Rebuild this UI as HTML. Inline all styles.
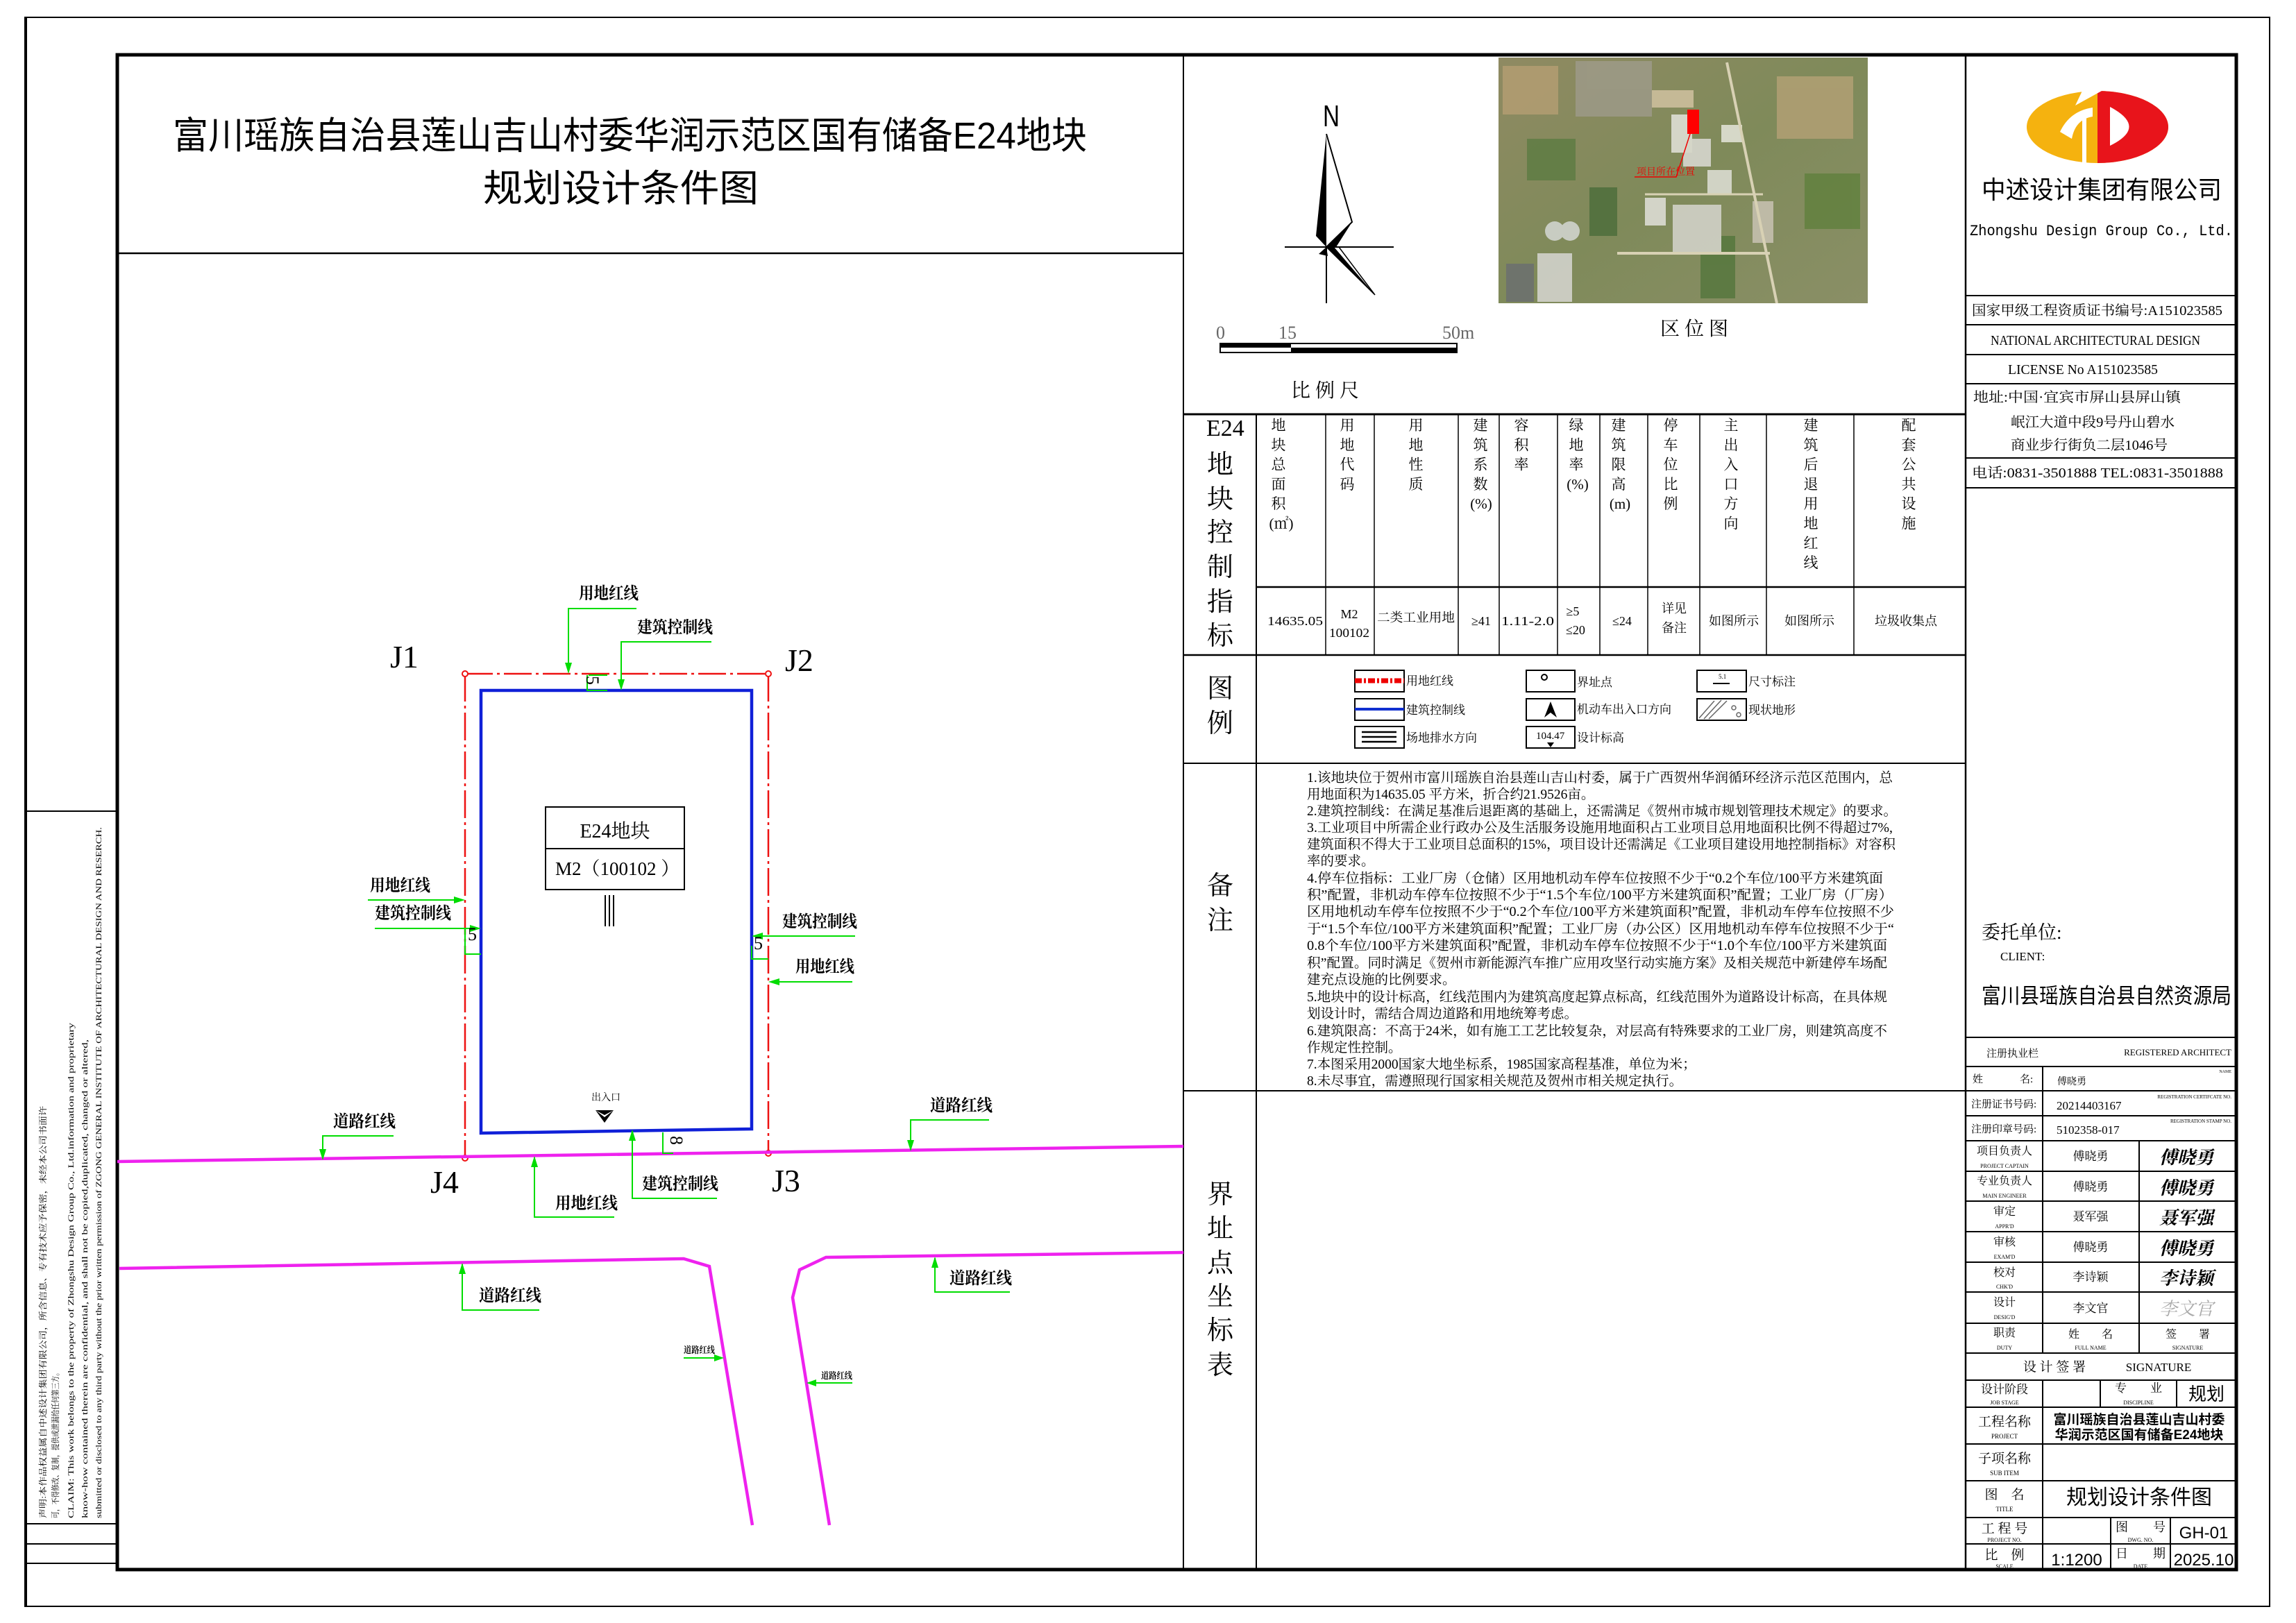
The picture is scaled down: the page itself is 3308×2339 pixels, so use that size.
<!DOCTYPE html>
<html><head><meta charset="utf-8"><style>
html,body{margin:0;padding:0;background:#fff;}
svg{display:block;}
text{font-family:"Liberation Serif","Noto Serif CJK SC",serif;fill:#000;}
.s{font-family:"Liberation Sans","Noto Sans CJK SC",sans-serif;}
.lb{font-family:"Liberation Sans","Noto Sans CJK SC",sans-serif;font-weight:bold;font-size:24px;}
.g{stroke:#00dd00;stroke-width:2;fill:none;}
.ga{fill:#00dd00;}
.k{stroke:#000;fill:none;}
</style></head><body>
<svg width="3308" height="2339" viewBox="0 0 3308 2339" xmlns="http://www.w3.org/2000/svg">
<rect width="3308" height="2339" fill="#fff"/>
<rect x="36" y="25" width="3234" height="2290" class="k" stroke-width="2"/>
<line x1="38" y1="25" x2="38" y2="2315" stroke="#000" stroke-width="2"/>
<line x1="36" y1="1169" x2="169" y2="1169" stroke="#000" stroke-width="2"/>
<line x1="36" y1="2196" x2="169" y2="2196" stroke="#000" stroke-width="2"/>
<line x1="36" y1="2225" x2="169" y2="2225" stroke="#000" stroke-width="2"/>
<line x1="36" y1="2253" x2="169" y2="2253" stroke="#000" stroke-width="2"/>
<g font-size="12">
<text transform="translate(66,2188) rotate(-90)" textLength="594" lengthAdjust="spacingAndGlyphs">声明:本作品权益属自中述设计集团有限公司，所含信息、专有技术应予保密，未经本公司书面许</text>
<text transform="translate(84,2188) rotate(-90)" textLength="215" lengthAdjust="spacingAndGlyphs">可，不得修改、复制，提供或泄漏给任何第三方。</text>
<text transform="translate(106,2188) rotate(-90)" textLength="714" lengthAdjust="spacingAndGlyphs">CLAIM: This work belongs to the property of Zhongshu Design Group Co., Ltd.information and proprietary</text>
<text transform="translate(126,2188) rotate(-90)" textLength="690" lengthAdjust="spacingAndGlyphs">know-how contained therein are confidential, and shall not be copied,duplicated, changed or altered,</text>
<text transform="translate(146,2188) rotate(-90)" textLength="996" lengthAdjust="spacingAndGlyphs">submitted or disclosed to any third party without the prior written permission of ZGONG GENERAL INSTITUTE OF ARCHITECTURAL DESIGN AND RESERCH.</text>
</g>
<rect x="169" y="79" width="3053" height="2183" class="k" stroke-width="5"/>
<line x1="169" y1="365" x2="1705" y2="365" stroke="#000" stroke-width="2.5"/>
<line x1="1705" y1="79" x2="1705" y2="2262" stroke="#000" stroke-width="2"/>
<line x1="2832" y1="79" x2="2832" y2="2262" stroke="#000" stroke-width="2.5"/>
<line x1="1705" y1="597" x2="2832" y2="597" stroke="#000" stroke-width="3"/>
<line x1="1810" y1="597" x2="1810" y2="2262" stroke="#000" stroke-width="2"/>
<line x1="1810" y1="846" x2="2832" y2="846" stroke="#000" stroke-width="2.5"/>
<line x1="1705" y1="944" x2="2832" y2="944" stroke="#000" stroke-width="2.5"/>
<line x1="1705" y1="1100" x2="2832" y2="1100" stroke="#000" stroke-width="2"/>
<line x1="1705" y1="1572" x2="2832" y2="1572" stroke="#000" stroke-width="2"/>
<g stroke="#000" stroke-width="1.5">
<line x1="1910" y1="597" x2="1910" y2="944"/><line x1="1980" y1="597" x2="1980" y2="944"/>
<line x1="2101" y1="597" x2="2101" y2="944"/><line x1="2160" y1="597" x2="2160" y2="944"/>
<line x1="2244" y1="597" x2="2244" y2="944"/><line x1="2305" y1="597" x2="2305" y2="944"/>
<line x1="2374" y1="597" x2="2374" y2="944"/><line x1="2449" y1="597" x2="2449" y2="944"/>
<line x1="2545" y1="597" x2="2545" y2="944"/><line x1="2671" y1="597" x2="2671" y2="944"/>
</g>
<text x="249" y="214" font-size="54" class="s" textLength="1317" lengthAdjust="spacingAndGlyphs">富川瑶族自治县莲山吉山村委华润示范区国有储备E24地块</text>
<text x="696" y="290" font-size="54" class="s" textLength="397" lengthAdjust="spacingAndGlyphs">规划设计条件图</text>

<text x="1906" y="182" font-size="44" class="s" textLength="24" lengthAdjust="spacingAndGlyphs">N</text>
<polygon points="1911,193 1896,340 1911,356" fill="#000"/>
<polyline points="1911,193 1948,320 1911,356" class="k" stroke-width="2"/>
<polygon points="1911,356 1948,320 1925,356" fill="#000"/>
<polygon points="1911,356 1981,425 1922,356" fill="#000"/>
<polyline points="1911,356 1981,425 1929,356" class="k" stroke-width="1.5"/>
<polygon points="1911,356 1900,366 1913,369" fill="#000"/>
<line x1="1851" y1="356" x2="2008" y2="356" stroke="#000" stroke-width="2"/>
<line x1="1911" y1="356" x2="1911" y2="437" stroke="#000" stroke-width="2"/>
<g font-size="26"><text x="1752" y="488" style="fill:#666">0</text><text x="1842" y="488" style="fill:#666">15</text><text x="2078" y="488" style="fill:#666">50m</text></g>
<rect x="1758" y="495" width="341" height="13" fill="#fff" stroke="#000" stroke-width="2"/>
<rect x="1758" y="495" width="102" height="6" fill="#000"/>
<rect x="1860" y="501" width="239" height="7" fill="#000"/>
<text x="1860" y="572" font-size="28">比 例 尺</text>
<defs><linearGradient id="mg" x1="0" y1="0" x2="1" y2="1"><stop offset="0" stop-color="#8f8a62"/><stop offset="0.5" stop-color="#7f8a5a"/><stop offset="1" stop-color="#8a8f66"/></linearGradient></defs>
<rect x="2159" y="83" width="532" height="354" fill="url(#mg)"/>
<g opacity="0.85">
<rect x="2165" y="95" width="80" height="70" fill="#b39d72"/>
<rect x="2270" y="88" width="110" height="80" fill="#9d9a88"/>
<rect x="2200" y="200" width="70" height="60" fill="#5f7d44"/>
<rect x="2290" y="270" width="40" height="70" fill="#4e6e3c"/>
<rect x="2560" y="110" width="110" height="90" fill="#b2a074"/>
<rect x="2600" y="250" width="80" height="80" fill="#62813f"/>
<rect x="2450" y="340" width="50" height="90" fill="#56773e"/>
<rect x="2170" y="380" width="40" height="55" fill="#6c6f70"/>
<rect x="2215" y="365" width="50" height="70" fill="#d7d7d2"/>
<circle cx="2240" cy="333" r="14" fill="#d5d8d5"/><circle cx="2262" cy="333" r="14" fill="#d5d8d5"/>
<rect x="2410" y="295" width="70" height="70" fill="#d6d6ce"/>
<rect x="2370" y="285" width="30" height="40" fill="#e2e2dc"/>
<rect x="2425" y="200" width="40" height="40" fill="#dcdcd6"/>
<rect x="2408" y="165" width="30" height="55" fill="#e4e4dc"/>
<rect x="2460" y="245" width="35" height="35" fill="#e0e0d8"/>
<rect x="2480" y="180" width="30" height="25" fill="#e6e6dc"/>
<rect x="2525" y="290" width="30" height="60" fill="#c9c3b3"/>
<rect x="2380" y="130" width="60" height="25" fill="#d1c2a0"/>
</g>
<line x1="2488" y1="90" x2="2560" y2="437" stroke="#d8d1b4" stroke-width="4"/>
<line x1="2330" y1="365" x2="2550" y2="365" stroke="#d8d1b4" stroke-width="4"/>
<line x1="2370" y1="280" x2="2540" y2="280" stroke="#d8d1b4" stroke-width="3"/>
<rect x="2431" y="158" width="17" height="35" fill="#ff0000"/>
<polyline points="2435,193 2415,255 2355,255" stroke="#e00" stroke-width="1.5" fill="none"/>
<text x="2358" y="252" font-size="14" style="fill:#e00">项目所在位置</text>
<text x="2392" y="483" font-size="28">区 位 图</text>

<text x="1738" y="628" font-size="34">E24</text>
<g font-size="38" text-anchor="middle">
<text x="1758" y="682">地</text><text x="1758" y="732">块</text><text x="1758" y="780">控</text><text x="1758" y="830">制</text><text x="1758" y="880">指</text><text x="1758" y="929">标</text>
<text x="1758" y="1005">图</text><text x="1758" y="1055">例</text>
<text x="1758" y="1289">备</text><text x="1758" y="1339">注</text>
<text x="1758" y="1734">界</text><text x="1758" y="1783">址</text><text x="1758" y="1833">点</text><text x="1758" y="1881">坐</text><text x="1758" y="1930">标</text><text x="1758" y="1980">表</text>
</g>
<g font-size="21" text-anchor="middle" style="fill:#333">
<text x="1842" y="620">地<tspan x="1842" dy="28.3">块</tspan><tspan x="1842" dy="28.3">总</tspan><tspan x="1842" dy="28.3">面</tspan><tspan x="1842" dy="28.3">积</tspan><tspan x="1846" dy="28.3">(㎡)</tspan></text>
<text x="1941" y="620">用<tspan x="1941" dy="28.3">地</tspan><tspan x="1941" dy="28.3">代</tspan><tspan x="1941" dy="28.3">码</tspan></text>
<text x="2040" y="620">用<tspan x="2040" dy="28.3">地</tspan><tspan x="2040" dy="28.3">性</tspan><tspan x="2040" dy="28.3">质</tspan></text>
<text x="2133" y="620">建<tspan x="2133" dy="28.3">筑</tspan><tspan x="2133" dy="28.3">系</tspan><tspan x="2133" dy="28.3">数</tspan><tspan x="2134" dy="28.3">(%)</tspan></text>
<text x="2192" y="620">容<tspan x="2192" dy="28.3">积</tspan><tspan x="2192" dy="28.3">率</tspan></text>
<text x="2271" y="620">绿<tspan x="2271" dy="28.3">地</tspan><tspan x="2271" dy="28.3">率</tspan><tspan x="2273" dy="28.3">(%)</tspan></text>
<text x="2332" y="620">建<tspan x="2332" dy="28.3">筑</tspan><tspan x="2332" dy="28.3">限</tspan><tspan x="2332" dy="28.3">高</tspan><tspan x="2334" dy="28.3">(m)</tspan></text>
<text x="2407" y="620">停<tspan x="2407" dy="28.3">车</tspan><tspan x="2407" dy="28.3">位</tspan><tspan x="2407" dy="28.3">比</tspan><tspan x="2407" dy="28.3">例</tspan></text>
<text x="2494" y="620">主<tspan x="2494" dy="28.3">出</tspan><tspan x="2494" dy="28.3">入</tspan><tspan x="2494" dy="28.3">口</tspan><tspan x="2494" dy="28.3">方</tspan><tspan x="2494" dy="28.3">向</tspan></text>
<text x="2609" y="620">建<tspan x="2609" dy="28.3">筑</tspan><tspan x="2609" dy="28.3">后</tspan><tspan x="2609" dy="28.3">退</tspan><tspan x="2609" dy="28.3">用</tspan><tspan x="2609" dy="28.3">地</tspan><tspan x="2609" dy="28.3">红</tspan><tspan x="2609" dy="28.3">线</tspan></text>
<text x="2750" y="620">配<tspan x="2750" dy="28.3">套</tspan><tspan x="2750" dy="28.3">公</tspan><tspan x="2750" dy="28.3">共</tspan><tspan x="2750" dy="28.3">设</tspan><tspan x="2750" dy="28.3">施</tspan></text>
</g>
<g font-size="18" text-anchor="middle" style="fill:#333">
<text x="1866" y="901" textLength="80" lengthAdjust="spacingAndGlyphs">14635.05</text>
<text x="1944" y="891">M2</text><text x="1944" y="918" textLength="58" lengthAdjust="spacingAndGlyphs">100102</text>
<text x="2040" y="896" textLength="112" lengthAdjust="spacingAndGlyphs">二类工业用地</text>
<text x="2134" y="901">≥41</text>
<text x="2201" y="901" textLength="76" lengthAdjust="spacingAndGlyphs">1.11-2.0</text>
<text x="2266" y="887">≥5</text><text x="2270" y="914">≤20</text>
<text x="2337" y="901">≤24</text>
<text x="2412" y="883">详见</text><text x="2412" y="911">备注</text>
<text x="2498" y="901">如图所示</text>
<text x="2607" y="901">如图所示</text>
<text x="2746" y="901">垃圾收集点</text>
</g>
<g stroke="#000" stroke-width="2" fill="#fff">
<rect x="1952" y="966" width="71" height="31"/><rect x="1952" y="1007" width="71" height="31"/><rect x="1952" y="1047" width="71" height="31"/>
<rect x="2199" y="966" width="70" height="31"/><rect x="2199" y="1007" width="70" height="31"/><rect x="2199" y="1047" width="70" height="31"/>
<rect x="2445" y="966" width="71" height="31"/><rect x="2445" y="1007" width="71" height="31"/>
</g>
<line x1="1952" y1="981" x2="2023" y2="981" stroke="#e00" stroke-width="7" stroke-dasharray="10 3 3 3"/>
<line x1="1952" y1="1022" x2="2023" y2="1022" stroke="#1030d0" stroke-width="4"/>
<g stroke="#000" stroke-width="2.5"><line x1="1962" y1="1055" x2="2012" y2="1055"/><line x1="1962" y1="1062" x2="2012" y2="1062"/><line x1="1962" y1="1069" x2="2012" y2="1069"/></g>
<circle cx="2225" cy="976" r="4" fill="none" stroke="#000" stroke-width="2"/>
<polygon points="2234,1011 2225,1034 2234,1027 2243,1034" fill="#000"/>
<text x="2213" y="1065" font-size="15">104.47</text>
<polygon points="2229,1070 2239,1070 2234,1077" fill="#000"/>
<line x1="2468" y1="985" x2="2492" y2="985" stroke="#000" stroke-width="2"/>
<text x="2476" y="978" font-size="9">5.1</text>
<g stroke="#666" stroke-width="1.5"><line x1="2448" y1="1035" x2="2470" y2="1010"/><line x1="2455" y1="1036" x2="2480" y2="1009"/><line x1="2462" y1="1036" x2="2488" y2="1010"/><circle cx="2498" cy="1020" r="3" fill="none"/><circle cx="2505" cy="1030" r="3" fill="none"/></g>
<g font-size="17" style="fill:#333">
<text x="2026" y="987">用地红线</text><text x="2026" y="1029">建筑控制线</text><text x="2026" y="1069">场地排水方向</text>
<text x="2272" y="989">界址点</text><text x="2272" y="1028">机动车出入口方向</text><text x="2272" y="1069">设计标高</text>
<text x="2519" y="988">尺寸标注</text><text x="2519" y="1029">现状地形</text>
</g>
<g font-size="19.5" style="fill:#222">
<text x="1883" y="1127" textLength="844" lengthAdjust="spacingAndGlyphs">1.该地块位于贺州市富川瑶族自治县莲山吉山村委，属于广西贺州华润循环经济示范区范围内，总</text>
<text x="1883" y="1151">用地面积为14635.05 平方米，折合约21.9526亩。</text>
<text x="1883" y="1175" textLength="850" lengthAdjust="spacingAndGlyphs">2.建筑控制线：在满足基准后退距离的基础上，还需满足《贺州市城市规划管理技术规定》的要求。</text>
<text x="1883" y="1199" textLength="844" lengthAdjust="spacingAndGlyphs">3.工业项目中所需企业行政办公及生活服务设施用地面积占工业项目总用地面积比例不得超过7%,</text>
<text x="1883" y="1223" textLength="848" lengthAdjust="spacingAndGlyphs">建筑面积不得大于工业项目总面积的15%，项目设计还需满足《工业项目建设用地控制指标》对容积</text>
<text x="1883" y="1247">率的要求。</text>
<text x="1883" y="1272" textLength="830" lengthAdjust="spacingAndGlyphs">4.停车位指标：工业厂房（仓储）区用地机动车停车位按照不少于“0.2个车位/100平方米建筑面</text>
<text x="1883" y="1296" textLength="844" lengthAdjust="spacingAndGlyphs">积”配置，非机动车停车位按照不少于“1.5个车位/100平方米建筑面积”配置；工业厂房（厂房）</text>
<text x="1883" y="1320" textLength="846" lengthAdjust="spacingAndGlyphs">区用地机动车停车位按照不少于“0.2个车位/100平方米建筑面积”配置，非机动车停车位按照不少</text>
<text x="1883" y="1345" textLength="846" lengthAdjust="spacingAndGlyphs">于“1.5个车位/100平方米建筑面积”配置；工业厂房（办公区）区用地机动车停车位按照不少于“</text>
<text x="1883" y="1369" textLength="836" lengthAdjust="spacingAndGlyphs">0.8个车位/100平方米建筑面积”配置，非机动车停车位按照不少于“1.0个车位/100平方米建筑面</text>
<text x="1883" y="1394" textLength="836" lengthAdjust="spacingAndGlyphs">积”配置。同时满足《贺州市新能源汽车推广应用攻坚行动实施方案》及相关规范中新建停车场配</text>
<text x="1883" y="1418">建充点设施的比例要求。</text>
<text x="1883" y="1443" textLength="836" lengthAdjust="spacingAndGlyphs">5.地块中的设计标高，红线范围内为建筑高度起算点标高，红线范围外为道路设计标高，在具体规</text>
<text x="1883" y="1467">划设计时，需结合周边道路和用地统筹考虑。</text>
<text x="1883" y="1492" textLength="836" lengthAdjust="spacingAndGlyphs">6.建筑限高：不高于24米，如有施工工艺比较复杂，对层高有特殊要求的工业厂房，则建筑高度不</text>
<text x="1883" y="1516">作规定性控制。</text>
<text x="1883" y="1540">7.本图采用2000国家大地坐标系，1985国家高程基准，单位为米；</text>
<text x="1883" y="1564">8.未尽事宜，需遵照现行国家相关规范及贺州市相关规定执行。</text>
</g>

<!-- Right panel -->
<g>
<ellipse cx="3022" cy="183" rx="102" ry="52" fill="#f5b20f"/>
<path d="M3022,131 A102,52 0 0 1 3022,235 Z" fill="#e8141b"/>
<path d="M3000,131 L3028,131 L2990,152 Z" fill="#fff"/>
<rect x="3000" y="170" width="6" height="65" fill="#fff"/>
<path d="M3040,154 Q3095,183 3040,210 Z" fill="#fff"/>
<path d="M2968,190 Q2982,160 3015,155 L3015,168 Q2990,172 2985,200 Z" fill="#fff"/>
</g>
<text x="2855" y="286" font-size="36" class="s" textLength="346" lengthAdjust="spacingAndGlyphs">中述设计集团有限公司</text>
<text x="2838" y="339" font-size="22" style="font-family:'Liberation Mono',monospace" textLength="379" lengthAdjust="spacingAndGlyphs">Zhongshu Design Group Co., Ltd.</text>
<g stroke="#000" stroke-width="2">
<line x1="2832" y1="426" x2="3222" y2="426"/><line x1="2832" y1="468" x2="3222" y2="468"/>
<line x1="2832" y1="511" x2="3222" y2="511"/><line x1="2832" y1="553" x2="3222" y2="553"/>
<line x1="2832" y1="660" x2="3222" y2="660"/><line x1="2832" y1="703" x2="3222" y2="703"/>
</g>
<g font-size="20">
<text x="2841" y="454" textLength="361" lengthAdjust="spacingAndGlyphs">国家甲级工程资质证书编号:A151023585</text>
<text x="2868" y="497" textLength="302" lengthAdjust="spacingAndGlyphs">NATIONAL ARCHITECTURAL DESIGN</text>
<text x="2893" y="539" textLength="216" lengthAdjust="spacingAndGlyphs">LICENSE No A151023585</text>
<text x="2843" y="579" textLength="299" lengthAdjust="spacingAndGlyphs">地址:中国·宜宾市屏山县屏山镇</text>
<text x="2897" y="615" textLength="236" lengthAdjust="spacingAndGlyphs">岷江大道中段9号丹山碧水</text>
<text x="2897" y="648" textLength="226" lengthAdjust="spacingAndGlyphs">商业步行街负二层1046号</text>
<text x="2841" y="688" textLength="362" lengthAdjust="spacingAndGlyphs">电话:0831-3501888   TEL:0831-3501888</text>
</g>
<text x="2855" y="1353" font-size="27">委托单位:</text>
<text x="2882" y="1384" font-size="17">CLIENT:</text>
<text x="2855" y="1446" font-size="31" class="s" textLength="360" lengthAdjust="spacingAndGlyphs">富川县瑶族自治县自然资源局</text>

<g stroke="#000" stroke-width="2">
<line x1="2832" y1="1495" x2="3222" y2="1495"/><line x1="2832" y1="1537" x2="3222" y2="1537"/>
<line x1="2832" y1="1572" x2="3222" y2="1572"/><line x1="2832" y1="1608" x2="3222" y2="1608"/>
<line x1="2832" y1="1644" x2="3222" y2="1644"/><line x1="2832" y1="1688" x2="3222" y2="1688"/>
<line x1="2832" y1="1731" x2="3222" y2="1731"/><line x1="2832" y1="1775" x2="3222" y2="1775"/>
<line x1="2832" y1="1819" x2="3222" y2="1819"/><line x1="2832" y1="1862" x2="3222" y2="1862"/>
<line x1="2832" y1="1907" x2="3222" y2="1907"/><line x1="2832" y1="1950" x2="3222" y2="1950"/>
<line x1="2832" y1="1989" x2="3222" y2="1989"/><line x1="2832" y1="2028" x2="3222" y2="2028"/>
<line x1="2832" y1="2081" x2="3222" y2="2081"/><line x1="2832" y1="2134" x2="3222" y2="2134"/>
<line x1="2832" y1="2187" x2="3222" y2="2187"/><line x1="2832" y1="2225" x2="3222" y2="2225"/>
<line x1="2943" y1="1537" x2="2943" y2="1950"/><line x1="2943" y1="1989" x2="2943" y2="2262"/>
<line x1="3082" y1="1644" x2="3082" y2="1950"/>
<line x1="3026" y1="1989" x2="3026" y2="2028"/><line x1="3136" y1="1989" x2="3136" y2="2028"/>
<line x1="3041" y1="2187" x2="3041" y2="2262"/><line x1="3127" y1="2187" x2="3127" y2="2262"/>
</g>
<g font-size="15">
<text x="2862" y="1523">注册执业栏</text>
<text x="3215" y="1521" text-anchor="end" font-size="13">REGISTERED ARCHITECT</text>
<text x="2842" y="1560">姓</text><text x="2910" y="1560">名:</text>
<text x="2964" y="1563" font-size="14">傅晓勇</text>
<text x="3215" y="1546" text-anchor="end" font-size="6">NAME</text>
<text x="2840" y="1596">注册证书号码:</text>
<text x="2963" y="1599" font-size="17">20214403167</text>
<text x="3215" y="1583" text-anchor="end" font-size="7">REGISTRATION CERTIFCATE NO.</text>
<text x="2840" y="1632">注册印章号码:</text>
<text x="2963" y="1634" font-size="17">5102358-017</text>
<text x="3215" y="1618" text-anchor="end" font-size="7">REGISTRATION STAMP NO.</text>
</g>
<g text-anchor="middle">
<g font-size="16"><text x="2888" y="1664">项目负责人</text><text x="2888" y="1707">专业负责人</text><text x="2888" y="1751">审定</text><text x="2888" y="1795">审核</text><text x="2888" y="1839">校对</text><text x="2888" y="1882">设计</text><text x="2888" y="1926">职责</text></g>
<g font-size="8"><text x="2888" y="1683">PROJECT CAPTAIN</text><text x="2888" y="1726">MAIN ENGINEER</text><text x="2888" y="1770">APPR'D</text><text x="2888" y="1814">EXAM'D</text><text x="2888" y="1857">CHK'D</text><text x="2888" y="1901">DESIG'D</text><text x="2888" y="1945">DUTY</text></g>
<g font-size="17"><text x="3012" y="1672">傅晓勇</text><text x="3012" y="1716">傅晓勇</text><text x="3012" y="1759">聂军强</text><text x="3012" y="1803">傅晓勇</text><text x="3012" y="1846">李诗颖</text><text x="3012" y="1891">李文官</text></g>
<text x="3012" y="1928" font-size="16">姓　　名</text><text x="3012" y="1945" font-size="8">FULL NAME</text>
<text x="3152" y="1928" font-size="16">签　　署</text><text x="3152" y="1945" font-size="8">SIGNATURE</text>
<g font-size="26" font-style="italic" font-weight="bold" class="s">
<text x="3150" y="1677">傅晓勇</text><text x="3150" y="1721">傅晓勇</text><text x="3150" y="1764">聂军强</text><text x="3150" y="1808">傅晓勇</text><text x="3150" y="1851">李诗颖</text>
<text x="3150" y="1895" style="fill:#aaa;font-weight:normal">李文官</text>
</g>
<text x="2960" y="1976" font-size="19">设 计 签 署</text><text x="3110" y="1976" font-size="17">SIGNATURE</text>
<text x="2888" y="2008" font-size="17">设计阶段</text><text x="2888" y="2024" font-size="8">JOB STAGE</text>
<text x="3081" y="2006" font-size="17">专　　业</text><text x="3081" y="2024" font-size="8">DISCIPLINE</text>
<text x="3179" y="2018" font-size="26" class="s">规划</text>
<text x="2888" y="2055" font-size="19">工程名称</text><text x="2888" y="2073" font-size="9">PROJECT</text>
<text x="3082" y="2052" font-size="19" class="s" font-weight="bold">富川瑶族自治县莲山吉山村委</text>
<text x="3082" y="2074" font-size="19" class="s" font-weight="bold">华润示范区国有储备E24地块</text>
<text x="2888" y="2108" font-size="19">子项名称</text><text x="2888" y="2126" font-size="9">SUB ITEM</text>
<text x="2888" y="2160" font-size="19">图　名</text><text x="2888" y="2178" font-size="9">TITLE</text>
<text x="3082" y="2168" font-size="30" class="s">规划设计条件图</text>
<text x="2888" y="2209" font-size="19">工 程 号</text><text x="2888" y="2222" font-size="8">PROJECT NO.</text>
<text x="3084" y="2207" font-size="18">图　　号</text><text x="3084" y="2222" font-size="8">DWG. NO.</text>
<text x="3175" y="2217" font-size="24" class="s">GH-01</text>
<text x="2888" y="2247" font-size="19">比　例</text><text x="2888" y="2260" font-size="8">SCALE</text>
<text x="2992" y="2256" font-size="24" class="s">1:1200</text>
<text x="3084" y="2245" font-size="18">日　　期</text><text x="3084" y="2260" font-size="8">DATE</text>
<text x="3175" y="2256" font-size="24" class="s">2025.10</text>
</g>

<g stroke="#ee1111" stroke-width="2.5" fill="none" stroke-dasharray="40 6 4 6">
<line x1="670" y1="971" x2="1107" y2="971"/>
<line x1="670" y1="971" x2="670" y2="1669"/>
<line x1="1107" y1="971" x2="1107" y2="1662"/>
</g>
<g stroke="#ee1111" stroke-width="2" fill="#fff"><circle cx="670" cy="971" r="4"/><circle cx="1107" cy="971" r="4"/><circle cx="670" cy="1669" r="4"/><circle cx="1107" cy="1662" r="4"/></g>
<polygon points="693,995 1083,995 1083,1627 693,1633" fill="none" stroke="#1020d8" stroke-width="4.5"/>
<g stroke="#ee22ee" stroke-width="4.5" fill="none">
<line x1="169" y1="1674" x2="1705" y2="1652"/>
<polyline points="172,1828 985,1814 1022,1825 1084,2198"/>
<polyline points="1705,1805 1190,1812 1152,1830 1142,1870 1195,2198"/>
</g>
<g font-size="46" style="fill:#e01010">
<text x="562" y="962">J1</text><text x="1131" y="967">J2</text><text x="620" y="1719">J4</text><text x="1112" y="1717">J3</text>
</g>
<rect x="786" y="1163" width="200" height="119" fill="#fff" stroke="#000" stroke-width="2"/>
<line x1="786" y1="1223" x2="986" y2="1223" stroke="#000" stroke-width="2"/>
<text x="886" y="1207" font-size="28" text-anchor="middle">E24地块</text>
<text x="800" y="1261" font-size="27">M2（100102 ）</text>
<g stroke="#000" stroke-width="2"><line x1="872" y1="1290" x2="872" y2="1335"/><line x1="878" y1="1290" x2="878" y2="1335"/><line x1="884" y1="1290" x2="884" y2="1335"/></g>
<text x="873" y="1586" font-size="14" text-anchor="middle">出入口</text>
<polygon points="858,1600 884,1600 871,1618" fill="#000"/>
<polygon points="858,1600 871,1607 884,1600 871,1610" fill="#fff"/>
<g class="g">
<polyline points="917,877 819,877 819,968"/>
<polyline points="1025,925 895,925 895,992"/>
<polyline points="530,1297 667,1297"/>
<polyline points="540,1338 690,1338"/>
<polyline points="1232,1349 1086,1349"/>
<polyline points="1228,1415 1110,1415"/>
<polyline points="567,1637 465,1637 465,1670"/>
<polyline points="1425,1614 1312,1614 1312,1657"/>
<polyline points="885,1754 770,1754 770,1668"/>
<polyline points="1033,1727 911,1727 911,1630"/>
<polyline points="777,1888 666,1888 666,1822"/>
<polyline points="1455,1862 1347,1862 1347,1813"/>
<polyline points="985,1957 1040,1957"/>
<polyline points="1228,1993 1165,1993"/>
<polyline points="846,973 846,995 875,995"/>
<polyline points="848,973 875,973"/>
<polyline points="670,1338 670,1375 693,1375"/>
<polyline points="1083,1363 1083,1382 1107,1382"/>
<polyline points="955,1632 955,1662 970,1662"/>
</g>
<g class="ga">
<polygon points="819,971 814,955 824,955"/>
<polygon points="895,995 890,979 900,979"/>
<polygon points="670,1297 654,1292 654,1302"/>
<polygon points="693,1338 677,1333 677,1343"/>
<polygon points="1083,1349 1099,1344 1099,1354"/>
<polygon points="1107,1415 1123,1410 1123,1420"/>
<polygon points="465,1672 460,1656 470,1656"/>
<polygon points="1312,1659 1307,1643 1317,1643"/>
<polygon points="770,1666 765,1682 775,1682"/>
<polygon points="911,1628 906,1644 916,1644"/>
<polygon points="666,1820 661,1836 671,1836"/>
<polygon points="1347,1811 1342,1827 1352,1827"/>
<polygon points="1043,1957 1029,1952 1029,1962"/>
<polygon points="1162,1993 1176,1988 1176,1998"/>
</g>
<g font-size="26">
<text transform="translate(845,974) rotate(90)">5</text>
<text x="674" y="1355">5</text>
<text x="1086" y="1368">5</text>
<text transform="translate(966,1637) rotate(90)">8</text>
</g>
<g class="lb">
<text x="834" y="863" textLength="86" lengthAdjust="spacingAndGlyphs">用地红线</text>
<text x="918" y="912" textLength="109" lengthAdjust="spacingAndGlyphs">建筑控制线</text>
<text x="533" y="1284" textLength="87" lengthAdjust="spacingAndGlyphs">用地红线</text>
<text x="540" y="1324" textLength="110" lengthAdjust="spacingAndGlyphs">建筑控制线</text>
<text x="1127" y="1336" textLength="108" lengthAdjust="spacingAndGlyphs">建筑控制线</text>
<text x="1146" y="1401" textLength="85" lengthAdjust="spacingAndGlyphs">用地红线</text>
<text x="480" y="1624" textLength="90" lengthAdjust="spacingAndGlyphs">道路红线</text>
<text x="1340" y="1601" textLength="90" lengthAdjust="spacingAndGlyphs">道路红线</text>
<text x="800" y="1742" textLength="90" lengthAdjust="spacingAndGlyphs">用地红线</text>
<text x="925" y="1714" textLength="110" lengthAdjust="spacingAndGlyphs">建筑控制线</text>
<text x="690" y="1875" textLength="90" lengthAdjust="spacingAndGlyphs">道路红线</text>
<text x="1368" y="1850" textLength="90" lengthAdjust="spacingAndGlyphs">道路红线</text>
<text x="985" y="1950" font-size="13" textLength="45" lengthAdjust="spacingAndGlyphs">道路红线</text>
<text x="1183" y="1987" font-size="13" textLength="45" lengthAdjust="spacingAndGlyphs">道路红线</text>
</g>
</svg>
</body></html>
